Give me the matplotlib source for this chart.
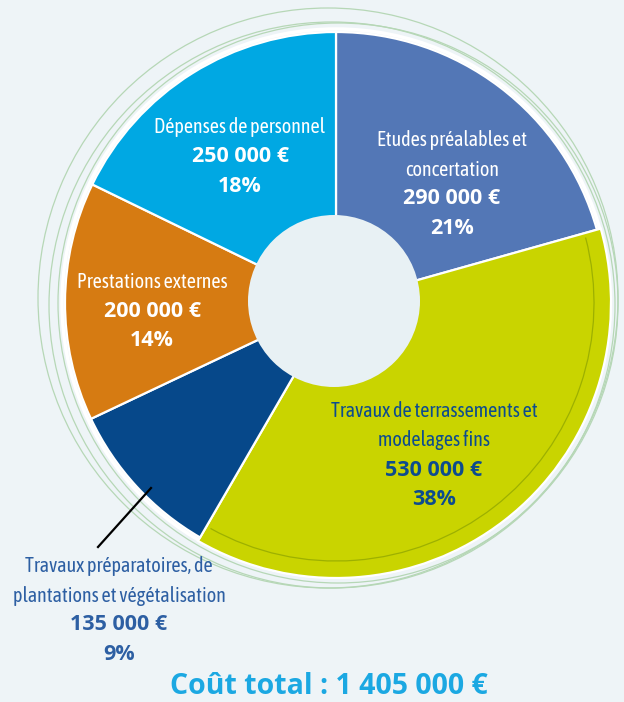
import matplotlib
matplotlib.use("Agg")
import matplotlib.pyplot as plt
from matplotlib.patches import Circle, Arc
import numpy as np

categories = ["Etudes préalables et\nconcertation",
              "Travaux de terrassements et\nmodelages fins",
              "Travaux préparatoires, de\nplantations et végétalisation",
              "Prestations externes",
              "Dépenses de personnel"]
values = [290000, 530000, 135000, 200000, 250000]
amount_labels = ["290 000 €", "530 000 €", "135 000 €", "200 000 €", "250 000 €"]
pct_labels = ["21%", "38%", "9%", "14%", "18%"]
colors = ["#5377B6", "#C9D400", "#06488A", "#D67B12", "#00A8E3"]
total_label = "Coût total : 1 405 000 €"

BG = "#EEF4F7"
HOLE = "#E8F1F4"
NARROW = ["Asap Condensed", "DejaVu Sans"]
BOLD = ["Open Sans", "DejaVu Sans"]

fig = plt.figure(figsize=(6.24, 7.02), dpi=100, facecolor=BG)
ax = fig.add_axes([0, 0, 1, 1])
ax.set_facecolor(BG)

cx, cy, R = 336, 303, 271
# decorative rings
for (dx, dy, rr) in [(-8, -5, 290), (2, 0, 280), (-4, 2, 283)]:
    ax.add_patch(Circle((cx + dx, cy + dy), rr, fill=False, ec="#B6D7B6", lw=0.9, zorder=1))
ax.add_patch(Circle((cx, cy), R + 3, fill=False, ec="white", lw=2.5, zorder=1))

wedges, _ = ax.pie(values, colors=colors, startangle=-90, counterclock=True,
                   center=(cx, cy), radius=R,
                   wedgeprops=dict(edgecolor="white", linewidth=1.6),
                   frame=True)
for w in wedges:
    w.set_zorder(2)
wedges[1].set_radius(R + 4)
g = wedges[1]
ax.add_patch(Arc((cx, cy), 2 * (R - 13), 2 * (R - 13), theta1=g.theta1 + 1, theta2=g.theta2 - 1,
                 color="#9DB000", lw=0.9, zorder=3))
ax.add_patch(Circle((cx - 2, cy - 2), 86, fc=HOLE, ec="none", zorder=4))

ax.set_xlim(0, 624)
ax.set_ylim(702, 0)
ax.set_aspect("equal")
ax.axis("off")

def block(x, y, idx, color, step=29.5):
    lines = categories[idx].split("\n")
    yy = y
    for ln in lines:
        ax.text(x, yy, ln, ha="center", va="center", color=color, fontsize=14.5,
                family=NARROW, zorder=5)
        yy += step
    ax.text(x, yy, amount_labels[idx], ha="center", va="center", color=color, fontsize=15.5,
            family=BOLD, fontweight="bold", zorder=5)
    yy += step
    ax.text(x, yy, pct_labels[idx], ha="center", va="center", color=color, fontsize=15.5,
            family=BOLD, fontweight="bold", zorder=5)

block(452, 140, 0, "white")
block(434, 411, 1, "#0D4C8E")
block(119, 566, 2, "#2D5FA3")
block(152, 282, 3, "white")
block(240, 127, 4, "white")

ax.plot([151, 98], [488, 547], color="black", lw=1.6, zorder=6)

ax.text(329, 686, total_label, ha="center", va="center", color="#1BA8E2", fontsize=20.5,
        family=BOLD, fontweight="bold")

fig.savefig("out.png", dpi=100, facecolor=BG)
